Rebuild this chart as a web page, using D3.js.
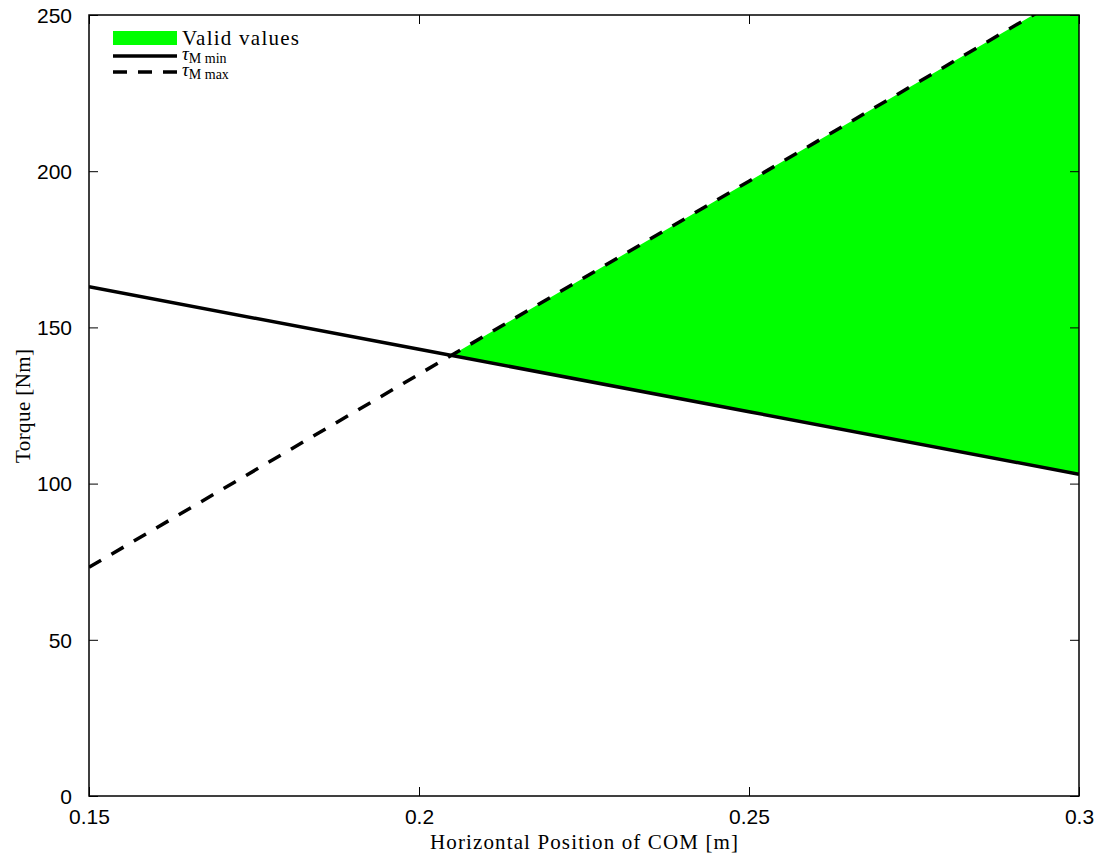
<!DOCTYPE html>
<html>
<head>
<meta charset="utf-8">
<script src="https://d3js.org/d3.v7.min.js"></script>
<style>
  body { margin: 0; background: #fff; }
  .tick text { font-family: "Liberation Sans", Arial, sans-serif; font-size: 21px; fill: #000; }
  .lbl { font-family: "Liberation Serif", "DejaVu Serif", serif; font-size: 21px; fill: #000; }
</style>
</head>
<body>
<script>
// valores
var comX = [0.15, 0.2, 0.25, 0.3];
var tauMin = [163, 143, 123, 103];
var tauMax = [73.2, 135, 196.8, 258.6];
var xTicks = [0.15, 0.2, 0.25, 0.3];
var yTicks = [0, 50, 100, 150, 200, 250];

var width = 1103, height = 859;
var m = { left: 89, right: 24, top: 15, bottom: 63 };
var w = width - m.left - m.right, h = height - m.top - m.bottom;

var svg = d3.select("body").append("svg")
  .attr("width", width).attr("height", height);

var x = d3.scaleLinear().domain([0.15, 0.3]).range([0, w]);
var y = d3.scaleLinear().domain([0, 250]).range([h, 0]);

var g = svg.append("g").attr("transform", "translate(" + m.left + "," + m.top + ")");

svg.append("defs").append("clipPath").attr("id", "clip")
  .append("rect").attr("width", w).attr("height", h);

// zona válida: entre min y max donde max > min
var pts = comX.map(function(d, i){ return { x: d, lo: tauMin[i], hi: tauMax[i] }; });
var fillPts = [];
for (var i = 0; i < pts.length - 1; i++) {
  var a = pts[i], b = pts[i + 1];
  var da = a.hi - a.lo, db = b.hi - b.lo;
  if (da >= 0) fillPts.push(a);
  if ((da < 0) !== (db < 0)) {
    var t = da / (da - db);
    var xc = a.x + t * (b.x - a.x), yc = a.lo + t * (b.lo - a.lo);
    fillPts.push({ x: xc, lo: yc, hi: yc });
  }
}
if (pts[pts.length - 1].hi >= pts[pts.length - 1].lo) fillPts.push(pts[pts.length - 1]);

var plot = g.append("g").attr("clip-path", "url(#clip)");

plot.append("path").datum(fillPts)
  .attr("fill", "#00ff00")
  .attr("d", d3.area().x(function(d){ return x(d.x); })
    .y0(function(d){ return y(d.lo); }).y1(function(d){ return y(d.hi); }));

var line = d3.line().x(function(d){ return x(d[0]); }).y(function(d){ return y(d[1]); });

plot.append("path").datum(comX.map(function(d, i){ return [d, tauMin[i]]; }))
  .attr("fill", "none").attr("stroke", "#000").attr("stroke-width", 3.5)
  .attr("d", line);

plot.append("path").datum(comX.map(function(d, i){ return [d, tauMax[i]]; }))
  .attr("fill", "none").attr("stroke", "#000").attr("stroke-width", 3.5)
  .attr("stroke-dasharray", "14,12")
  .attr("d", line);

// ejes con marcas hacia dentro en los cuatro lados
var axB = g.append("g").attr("transform", "translate(0," + h + ")")
  .call(d3.axisBottom(x).tickValues(xTicks).tickSizeInner(-9).tickSizeOuter(0).tickPadding(13)
    .tickFormat(function(d){ return String(+d.toFixed(2)); }));
var axT = g.append("g")
  .call(d3.axisTop(x).tickValues(xTicks).tickSizeInner(-9).tickSizeOuter(0).tickFormat(""));
var axL = g.append("g")
  .call(d3.axisLeft(y).tickValues(yTicks).tickSizeInner(-9).tickSizeOuter(0).tickPadding(17));
var axR = g.append("g").attr("transform", "translate(" + w + ",0)")
  .call(d3.axisRight(y).tickValues(yTicks).tickSizeInner(-9).tickSizeOuter(0).tickFormat(""));

[axB, axT, axL, axR].forEach(function(a){
  a.select(".domain").remove();
  a.selectAll(".tick line").attr("stroke", "#000").attr("stroke-width", 1);
});
axL.selectAll(".tick text").attr("dy", "0.35em");

g.append("rect").attr("width", w).attr("height", h)
  .attr("fill", "none").attr("stroke", "#000").attr("stroke-width", 1.5);

// títulos de ejes
svg.append("text").attr("class", "lbl")
  .attr("x", m.left + w / 2).attr("y", 849).attr("text-anchor", "middle")
  .attr("textLength", 308).attr("lengthAdjust", "spacing")
  .text("Horizontal Position of COM [m]");
svg.append("text").attr("class", "lbl")
  .attr("transform", "translate(30,406) rotate(-90)")
  .attr("text-anchor", "middle")
  .attr("textLength", 114).attr("lengthAdjust", "spacing")
  .text("Torque [Nm]");

// leyenda
var leg = svg.append("g").attr("transform", "translate(113,0)");
leg.append("rect").attr("x", 0).attr("y", 31).attr("width", 64).attr("height", 14).attr("fill", "#00ff00");
leg.append("text").attr("class", "lbl").attr("x", 69).attr("y", 45)
  .attr("textLength", 117).attr("lengthAdjust", "spacing")
  .text("Valid values");

leg.append("line").attr("x1", 0).attr("x2", 64).attr("y1", 56).attr("y2", 56)
  .attr("stroke", "#000").attr("stroke-width", 3.5);
leg.append("line").attr("x1", 0).attr("x2", 64).attr("y1", 72).attr("y2", 72)
  .attr("stroke", "#000").attr("stroke-width", 3.5).attr("stroke-dasharray", "14,11");

function tauLabel(yy, sub) {
  var t = leg.append("text").attr("class", "lbl").attr("x", 69).attr("y", yy);
  t.append("tspan").attr("font-style", "italic").attr("font-size", "19px").text("τ");
  t.append("tspan").attr("font-size", "14px").attr("dy", 3).text(sub);
}
tauLabel(60, "M min");
tauLabel(76, "M max");
</script>
</body>
</html>
